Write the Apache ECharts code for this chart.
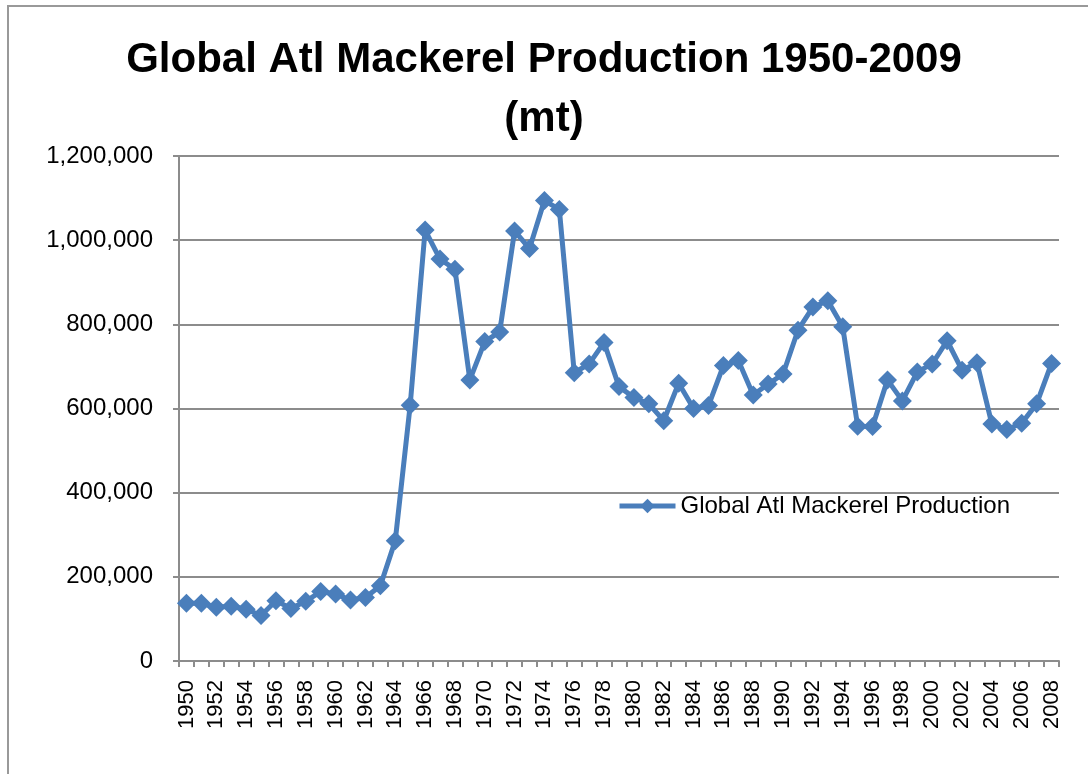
<!DOCTYPE html>
<html>
<head>
<meta charset="utf-8">
<script src="https://cdn.jsdelivr.net/npm/echarts@6/dist/echarts.min.js"></script>
<style>
html,body{margin:0;padding:0;background:#fff;}
#chart{width:1088px;height:774px;}
</style>
</head>
<body>
<div id="chart"></div>
<script>
const years = ['1950','1951','1952','1953','1954','1955','1956','1957','1958','1959',
 '1960','1961','1962','1963','1964','1965','1966','1967','1968','1969',
 '1970','1971','1972','1973','1974','1975','1976','1977','1978','1979',
 '1980','1981','1982','1983','1984','1985','1986','1987','1988','1989',
 '1990','1991','1992','1993','1994','1995','1996','1997','1998','1999',
 '2000','2001','2002','2003','2004','2005','2006','2007','2008'];
const production = [137000,137000,128000,130000,123000,108000,143000,125000,142000,165000,
 159000,145000,151000,179000,286000,608000,1024000,955000,931000,668000,
 759000,782000,1022000,980000,1094000,1073000,685000,706000,757000,652000,
 626000,611000,571000,660000,600000,607000,702000,714000,632000,658000,
 682000,786000,841000,856000,794000,558000,557000,668000,618000,687000,
 706000,761000,691000,709000,563000,550000,565000,611000,707000];
const yTicks = [0,200000,400000,600000,800000,1000000,1200000];
const titleText = 'Global Atl Mackerel Production 1950-2009\n(mt)';
const seriesName = 'Global Atl Mackerel Production';

const chart = echarts.init(document.getElementById('chart'));
const gray = '#8c8c8c';
const blue = '#4A7EBB';
chart.setOption({
  backgroundColor: '#fff',
  animation: false,
  graphic: [{
    type: 'rect', left: 7, top: 5, z: -1,
    shape: {width: 1100, height: 800},
    style: {fill: '#fff', stroke: '#999', lineWidth: 2}
  }],
  title: {
    text: titleText,
    left: 'center', top: 26,
    textStyle: {fontFamily: 'Liberation Sans', fontWeight: 'bold', fontSize: 42, lineHeight: 59, color: '#000'}
  },
  legend: {
    left: 612, top: 489,
    itemWidth: 56, itemHeight: 18,
    data: [seriesName],
    lineStyle: {width: 5},
    textStyle: {fontFamily: 'Liberation Sans', fontSize: 24, color: '#000'}
  },
  grid: {left: 179, right: 29, top: 156, bottom: 113, containLabel: false},
  xAxis: {
    type: 'category',
    data: years,
    boundaryGap: true,
    axisLine: {lineStyle: {color: gray, width: 2}},
    axisTick: {show: true, alignWithLabel: false, interval: 0, length: 6, lineStyle: {color: gray, width: 2}},
    axisLabel: {interval: 1, rotate: 90, margin: 19, fontFamily: 'Liberation Sans', fontSize: 22, color: '#000'}
  },
  yAxis: {
    type: 'value',
    min: yTicks[0], max: yTicks[yTicks.length-1], interval: 200000,
    axisLine: {show: true, lineStyle: {color: gray, width: 2}},
    axisTick: {show: true, length: 6, lineStyle: {color: gray, width: 2}},
    splitLine: {lineStyle: {color: gray, width: 2}},
    axisLabel: {margin: 26, fontFamily: 'Liberation Sans', fontSize: 24, color: '#000',
      formatter: v => v.toLocaleString('en-US')}
  },
  series: [{
    name: seriesName,
    type: 'line',
    data: production,
    symbol: 'diamond',
    symbolSize: 19,
    showAllSymbol: true,
    lineStyle: {color: blue, width: 5},
    itemStyle: {color: blue}
  }]
});
</script>
</body>
</html>
